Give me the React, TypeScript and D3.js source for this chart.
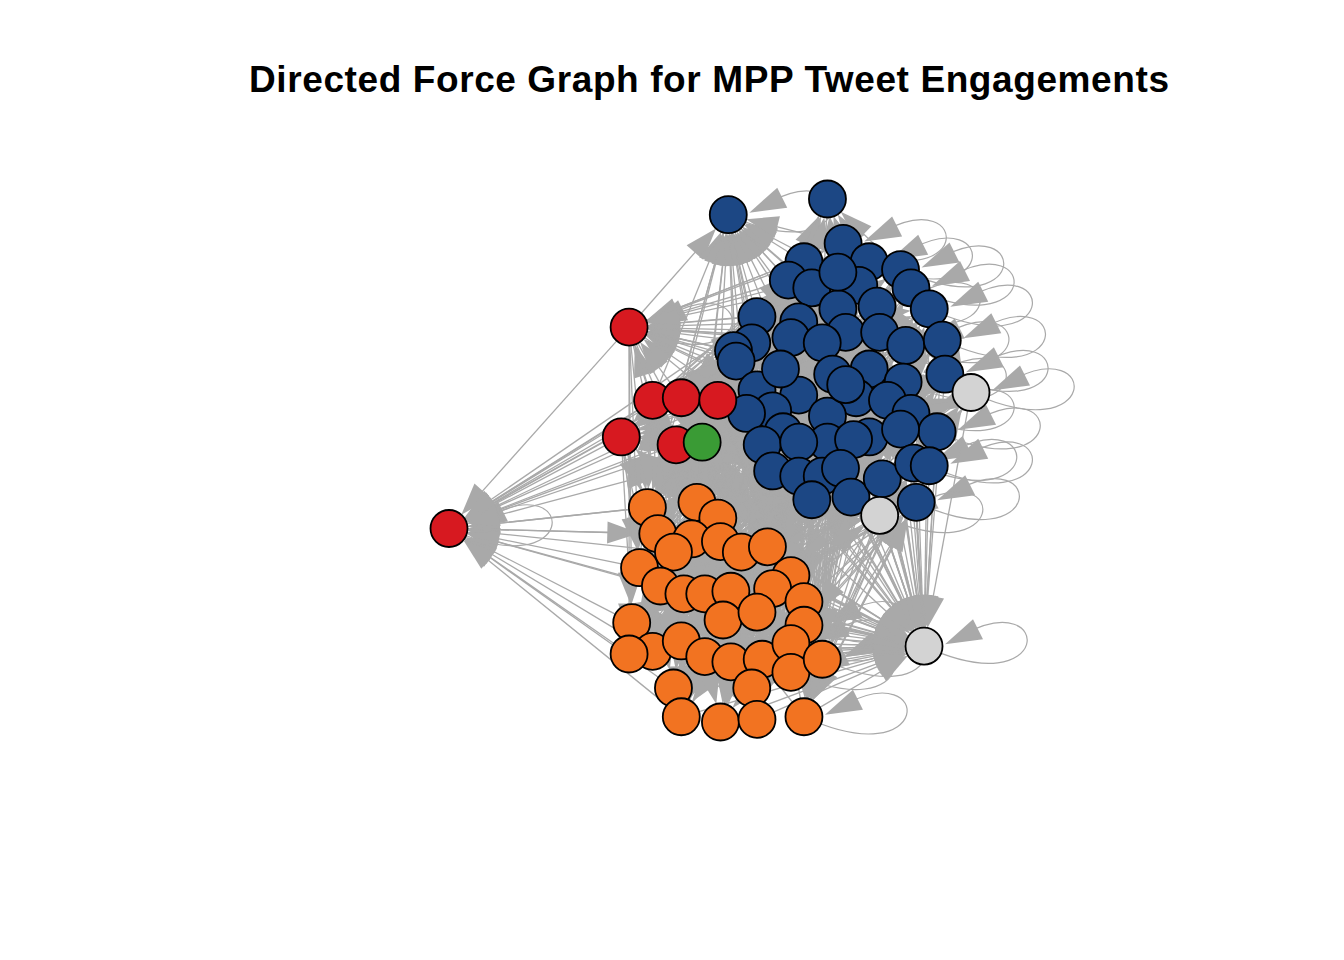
import { useEffect, useRef } from 'react'
import * as d3 from 'd3'

const title = 'Directed Force Graph for MPP Tweet Engagements'

// igraph layout coordinates, rescaled to [-1, 1]
const blueNodes: [number, number][] = [
  [0.07, 0.94], [0.45, 1.0], [0.51, 0.83], [0.36, 0.76], [0.61, 0.76], [0.73, 0.73],
  [0.30, 0.69], [0.39, 0.66], [0.57, 0.67], [0.77, 0.66], [0.49, 0.58], [0.64, 0.59],
  [0.84, 0.58], [0.18, 0.55], [0.34, 0.53], [0.31, 0.47], [0.52, 0.49], [0.65, 0.49],
  [0.75, 0.44], [0.89, 0.46], [0.16, 0.45], [0.43, 0.45], [0.09, 0.42], [0.10, 0.38],
  [0.90, 0.33], [0.47, 0.33], [0.61, 0.35], [0.74, 0.30], [0.18, 0.27], [0.34, 0.25],
  [0.56, 0.24], [0.24, 0.19], [0.14, 0.18], [0.45, 0.17], [0.68, 0.23], [0.77, 0.18],
  [0.28, 0.11], [0.20, 0.06], [0.45, 0.07], [0.61, 0.09], [0.87, 0.11], [0.73, 0.12],
  [0.34, 0.07], [0.55, 0.08], [0.24, -0.04], [0.34, -0.06], [0.43, -0.06], [0.50, -0.03],
  [0.54, -0.14], [0.39, -0.15], [0.66, -0.07], [0.78, -0.01], [0.84, -0.02], [0.79, -0.16],
  [0.49, 0.72], [0.27, 0.35], [0.52, 0.29],
]

const orangeNodes: [number, number][] = [
  [-0.24, -0.18], [-0.05, -0.16], [0.03, -0.22], [-0.20, -0.28], [-0.07, -0.30], [0.04, -0.31],
  [-0.14, -0.35], [0.12, -0.35], [0.22, -0.33], [-0.27, -0.41], [0.31, -0.44], [-0.19, -0.48],
  [-0.10, -0.51], [-0.02, -0.51], [0.08, -0.50], [0.24, -0.49], [0.36, -0.54], [0.05, -0.61],
  [0.18, -0.58], [0.36, -0.63], [-0.30, -0.62], [-0.22, -0.73], [-0.11, -0.69], [-0.31, -0.74],
  [-0.02, -0.75], [0.08, -0.77], [0.20, -0.76], [0.31, -0.70], [0.31, -0.81], [0.43, -0.76],
  [-0.14, -0.87], [0.16, -0.87], [-0.11, -0.98], [0.04, -1.0], [0.18, -0.99], [0.36, -0.98],
]

const redNodes: [number, number][] = [
  [-0.31, 0.51], [-0.22, 0.23], [-0.11, 0.24], [0.03, 0.23], [-0.34, 0.09], [-0.13, 0.06], [-1.0, -0.26],
]

const greenNodes: [number, number][] = [[-0.03, 0.07]]

const greyNodes: [number, number][] = [[1.0, 0.26], [0.65, -0.21], [0.82, -0.71]]

const groupColors: Record<string, string> = {
  b: '#1C4784',
  o: '#F27321',
  r: '#D71920',
  g: '#3A9B35',
  n: '#D3D3D3',
}

// "target < sources"
const edgeGroups = [
  'r7 < r1 r2 r3 r4 r5 r6 g1 o1 o2 o4 o7 o10 o12 o13 o21 o22 o24 b14 b16 b21 b23 b24 b29 b33 b38 o31 o33',
  'n3 < o3 o5 o6 o8 o9 o11 o14 o15 o16 o17 o18 o19 o20 o26 o27 o28 o29 o30 o32 o36 b36 b40 b41 b42 b44 b48 b49 b51 b52 b53 b54 n2 b47 b46 b50 o2 o13 o25 r4 g1',
  'n3 < b10 b13 b19 b20 b25 b28 b35 b31 b27 b18 b12 b39 b43 b34 b26 b22 b17 b30 b37 b45 o1 o4 o7 o10 o12 o21 o22 o23 o24 o31 o33 o34 o35 n1',
  'b1 < b4 b7 b14 b15 b16 b21 b23 b24 b29 b33 r1 r2 r3 r4 g1 b8 b11 b22 b30 b32 o2 o1 b55 b3',
  'r1 < b14 b15 b16 b21 b23 b24 b4 b7 b8 b11 b17 b22 b26 b30 b29 r2 r3 r4 b3 b55',
  'r5 < r2 r3 r4 g1 b23 b24 b33 b38 o1 o2 o4 b32 b45',
  'b2 < b3 b4 b5 b7 b8 b9 b55 b11 b6',
  'b39 < o1 o2 o3 o5 o6 o8 o9 o11 o12 o13 o14 o15 o16 o18 o19 o21 o23 o25',
  'b30 < o1 o4 o7 o10 o12 o13 o14 o17 o20 o22 o24 o26 o31 o33 o34 o35',
  'o15 < b17 b22 b26 b31 b34 b39 b44 b48 b12 b18 b27 b35 b42 b53 b20 b25',
  'o8 < b10 b13 b19 b28 b36 b41 b52 b47 b50 b49 b54 n1 n2',
  'o2 < b21 b24 b29 b33 b38 b45 r2 r3 r4 g1 b43 b46',
  'b44 < o10 o12 o21 o22 o24 o27 o29 o30 o32 o36 o28',
  'r2 < b17 b22 b26 b34 o1 o4 o10 b30 b43 b45 b38',
  'n2 < o8 o9 o11 o16 o3 o6 b46 b47 b50',
  'g1 < o1 o2 o5 b45 b38 b21 b22 b30 b39 o3 o8 b44',
  'o4 < r7',
  'b22 < o1 o3 o5 o7 o9 o11 o13 o15 o17 o19 o21 o23 o25 o27 o29 o31 o33 o35 r5 r6',
  'b17 < o2 o4 o6 o8 o10 o12 o14 o16 o18 o20 o22 o24 o26 o28 o30 o32 o34 o36 r2 r3',
  'b46 < o1 o2 o4 o7 o10 o12 o13 o21 o22 o23 o24 o25 o31 o33 o34 r5 r6 g1',
  'b33 < o1 o4 o10 o12 o21 o24 o22 o31 o33 o7 o13 o3 o6 r5',
  'b24 < o5 o8 o9 o11 o16 o17 o19 o20 o27 o28 o29 o30 o35 o36',
  'o1 < b1 b4 b7 b14 b16 b21 b23 b29 b33 b38 b45 r1 r2 r3 r4 r5 r6 g1 b32 b37',
  'o10 < b2 b3 b5 b9 b11 b15 b22 b26 b30 b34 b39 b43 b56 b57 r1 r5',
  'o21 < b6 b8 b12 b17 b18 b27 b31 b35 b40 b44 b48 b49 b50 b46 b47 r1 r5',
  'o24 < b10 b13 b19 b20 b25 b28 b36 b41 b42 b51 b52 b53 b54 n1 n2 r1',
  'o36 < b2 b5 b9 b12 b18 b27 b31 b35 b40 b44 b49 b51 b54 n1 n2 b20 b25',
  'o30 < b1 b3 b4 b7 b8 b11 b15 b16 b17 b22 b26 b30 b34 b37 b39 b43 b46 b48 b50',
  'o17 < b55 b14 b21 b23 b24 b29 b32 b33 b38 b45 b56 b57 r2 r3 r4 g1',
  'r6 < b3 b11 b17 b26 b31 b39 b44 b48 b50 o3 o6 o9 o12 o13 o14',
  'r3 < b4 b15 b16 b22 b30 b34 b37 b43 b56 b57 o5 o8',
  'r4 < b7 b8 b14 b21 b29 b32 b38 b45 o2 o3 o14',
  'b7 < r5 r6 o1 o4 o10 r2 r3 g1 b45 b38 b33 b23 b24',
  'b14 < r2 r5 o1 o7 o12 b45 b38 r6 o4',
  'b3 < b14 b21 b23 b24 b29 b33 b16 b15 r1 r4',
  'n1 < b10 b13 b20 b25 b19 b28 b36 b41 b42 b53 b52 b6 b12',
  'b54 < o9 o11 o16 o17 o20 o28 o30 o36 o19 o27',
  'b52 < o8 o11 o17 o20 o30 o36 n3',
  'b4 < b22 b31 b45 o2 r2',
  'b5 < b14 b30 b39 o8 r3',
  'b6 < b16 b26 b44 o15 r4',
  'b8 < b23 b34 b49 o1 r5',
  'b9 < b21 b37 b47 o5 g1',
  'b10 < b24 b39 b50 o9 r2',
  'b11 < b29 b43 b46 o3 r3',
  'b12 < b33 b38 b48 o11 r4',
  'b13 < b15 b32 b51 o16 r5',
  'b15 < b40 b52 o4 r6 b5',
  'b16 < b42 b53 o7 r1 b6',
  'b18 < b37 b45 o12 r2 b9',
  'b19 < b38 b46 o13 g1 b4',
  'b20 < b33 b47 o14 r3 b8',
  'b21 < b44 b54 o6 r4 b5',
  'b23 < b41 b49 o10 r5 b12',
  'b25 < b29 b50 o17 r6 b11',
  'b26 < b14 b51 o18 r1 b13',
  'b27 < b21 b45 o19 g1 b1',
  'b28 < b23 b46 o20 r2 b7',
  'b29 < b40 b52 o21 r3 b9',
  'b31 < b33 b47 o22 r4 b2',
  'b32 < b43 b48 o23 r5 b10',
  'b34 < b24 b53 o24 r6 b19',
  'b35 < b16 b49 o25 r1 b14',
  'b36 < b37 b50 o26 g1 b15',
  'b37 < b41 b54 o27 r2 b25',
  'b38 < b42 b36 o28 r3 b20',
  'b40 < b45 b31 o29 r4 b3',
  'b41 < b46 b32 o30 r5 b7',
  'b42 < b38 b29 o31 r6 b8',
  'b43 < b51 b21 o32 r1 b13',
  'b45 < b52 b26 o33 g1 b6',
  'b47 < b53 b35 o34 r2 b10',
  'b48 < b22 b23 o35 r3 b4',
  'b49 < b24 b14 o36 r4 b5',
  'b50 < b33 b16 o1 r5 b12',
  'b51 < b38 b27 o2 r6 b9',
  'b53 < b21 b28 o3 r1 b18',
  'b55 < b34 b43 o4 r2 b19',
  'b56 < b36 b44 o5 r3 b20',
  'b57 < b40 b45 o6 r4 b25',
  'o3 < b30 b41 o24 r5 o33',
  'o5 < b31 b42 o21 r6 o35',
  'o6 < b32 b43 o22 r1 o31',
  'o7 < b34 b44 o29 r2 o36',
  'o9 < b35 b45 o23 r3 o34',
  'o11 < b36 b46 o25 r4 o33',
  'o12 < b37 b47 o27 g1 o20',
  'o13 < b38 b48 o26 r5 o30',
  'o14 < b39 b49 o28 r6 o11',
  'o16 < b40 b50 o24 r1 o10',
  'o18 < b41 b51 o22 r2 o9',
  'o19 < b42 b52 o21 r3 o1',
  'o20 < b43 b53 o31 r4 o2',
  'o22 < b44 b54 o3 r5 o9',
  'o23 < b45 b22 o8 g1 o30',
  'o25 < b46 b17 o11 r6 o16',
  'o26 < b47 b26 o9 r1 o4',
  'o27 < b48 b31 o1 r2 o10',
  'o28 < b49 b39 o5 r3 o12',
  'o29 < b50 b44 o7 r4 o21',
  'o31 < b16 b30 o2 r5 o17',
  'o32 < b33 b22 o6 g1 o11',
  'o33 < b38 b17 o3 r6 o16',
  'o34 < b45 b26 o8 r1 o20',
  'o35 < b43 b39 o4 r2 o10',
]

const loopNodes = [
  'b1', 'b3', 'b5', 'b6', 'b10', 'b12', 'b13', 'b19', 'b20', 'b25', 'b28', 'b36',
  'b41', 'b52', 'b53', 'b54', 'n1', 'n2', 'n3', 'o20', 'o28', 'o29', 'o30', 'o36', 'r1', 'r7',
]

const W = 1344
const H = 960
const R = 18.5
const ARROW_LEN = 32
const ARROW_HW = 11
const EDGE_COLOR = '#A9A9A9'
// loop arrowhead corners, relative to the vertex centre (igraph draws them tilted upwards)
const LOOP_HEAD = [[21, -2], [49, -27], [59, -7]]

export default function App() {
  const ref = useRef<SVGSVGElement | null>(null)

  useEffect(() => {
    if (!ref.current) return
    const svg = d3.select(ref.current)
    svg.selectAll('*').remove()

    const x = d3.scaleLinear().domain([-1, 1]).range([449, 971])
    const y = d3.scaleLinear().domain([-1, 1]).range([722, 199])

    const nodes = new Map<string, { x: number; y: number; color: string }>()
    const addGroup = (prefix: string, list: [number, number][]) => {
      list.forEach((p, i) => nodes.set(prefix + (i + 1), { x: x(p[0]), y: y(p[1]), color: groupColors[prefix] }))
    }
    addGroup('b', blueNodes)
    addGroup('o', orangeNodes)
    addGroup('r', redNodes)
    addGroup('g', greenNodes)
    addGroup('n', greyNodes)

    const edges: [string, string][] = []
    edgeGroups.forEach(s => {
      const [t, src] = s.split('<').map(d => d.trim())
      src.split(/\s+/).forEach(d => edges.push([d, t]))
    })

    const arrowPts = (tx: number, ty: number, ux: number, uy: number) => {
      const bx = tx - ux * ARROW_LEN
      const by = ty - uy * ARROW_LEN
      return [[tx, ty], [bx - uy * ARROW_HW, by + ux * ARROW_HW], [bx + uy * ARROW_HW, by - ux * ARROW_HW]]
    }

    // loops
    const gl = svg.append('g')
    loopNodes.forEach(id => {
      const n = nodes.get(id)
      if (!n) return
      gl.append('path')
        .attr('d', `M${n.x},${n.y} C${n.x + 130},${n.y + 60} ${n.x + 130},${n.y - 60} ${n.x + 40},${n.y - 12}`)
        .attr('fill', 'none').attr('stroke', EDGE_COLOR).attr('stroke-width', 1.2)
      gl.append('polygon')
        .attr('points', LOOP_HEAD.map(p => `${n.x + p[0]},${n.y + p[1]}`).join(' '))
        .attr('fill', EDGE_COLOR)
    })

    // edges
    const ge = svg.append('g')
    edges.forEach(([s, t]) => {
      const a = nodes.get(s), b = nodes.get(t)
      if (!a || !b) return
      const dx = b.x - a.x, dy = b.y - a.y
      const len = Math.hypot(dx, dy)
      if (len < 1) return
      const ux = dx / len, uy = dy / len
      const tx = b.x - ux * R, ty = b.y - uy * R
      ge.append('line')
        .attr('x1', a.x + ux * R).attr('y1', a.y + uy * R)
        .attr('x2', tx - ux * (ARROW_LEN - 2)).attr('y2', ty - uy * (ARROW_LEN - 2))
        .attr('stroke', EDGE_COLOR).attr('stroke-width', 1.3)
      const pts = arrowPts(tx, ty, ux, uy)
      ge.append('polygon').attr('points', pts.map(p => p.join(',')).join(' ')).attr('fill', EDGE_COLOR)
    })

    // vertices
    const gv = svg.append('g')
    Array.from(nodes.values()).forEach(n => {
      gv.append('circle').attr('cx', n.x).attr('cy', n.y).attr('r', R)
        .attr('fill', n.color).attr('stroke', '#000').attr('stroke-width', 1.8)
    })

    svg.append('text')
      .attr('x', 709).attr('y', 92)
      .attr('text-anchor', 'middle')
      .attr('font-family', 'Liberation Sans, Arial, sans-serif')
      .attr('font-weight', 'bold').attr('font-size', 37)
      .attr('textLength', 920).attr('lengthAdjust', 'spacing')
      .attr('fill', '#000')
      .text(title)
  }, [])

  return (
    <svg ref={ref} width={W} height={H} viewBox={`0 0 ${W} ${H}`}
      style={{ position: 'absolute', left: 0, top: 0, background: '#fff' }} />
  )
}
